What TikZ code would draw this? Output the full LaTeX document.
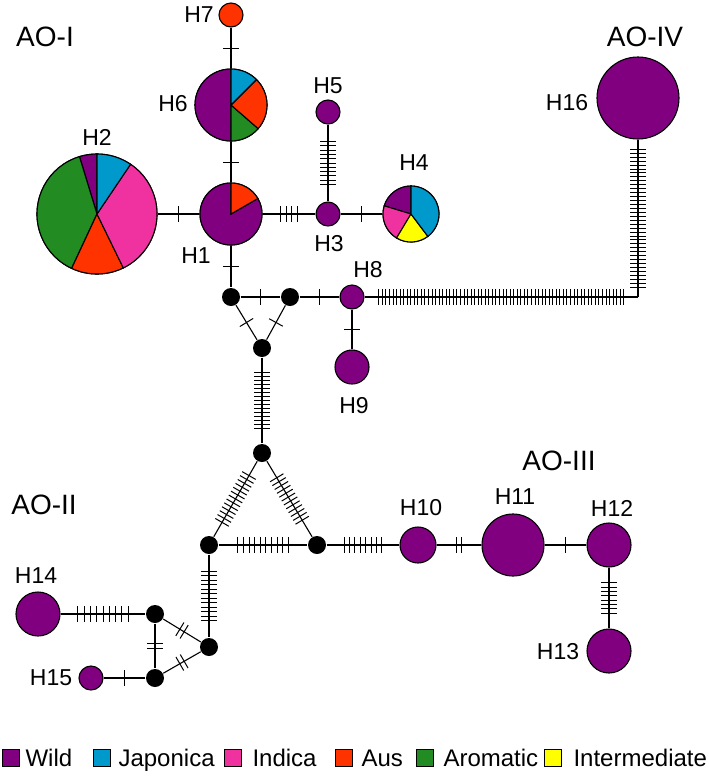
\documentclass[tikz,border=0pt]{standalone}
\usepackage{fontspec}
\setmainfont{Liberation Sans}
\usetikzlibrary{positioning,decorations.markings}

\definecolor{wild}{RGB}{128,0,128}
\definecolor{japonica}{RGB}{0,153,204}
\definecolor{indica}{RGB}{240,50,160}
\definecolor{aus}{RGB}{255,51,0}
\definecolor{aromatic}{RGB}{34,139,34}
\definecolor{intermed}{RGB}{255,255,0}

% one slice of a pie: centre, start, end, radius, colour
\newcommand{\slice}[5]{\filldraw[fill=#5] (#1) -- ++(#2:#4) arc[start angle=#2, end angle=#3, radius=#4] -- cycle;}

\tikzset{
  hap/.style={circle,draw,fill=wild,inner sep=0pt},
  jn/.style={circle,fill=black,inner sep=0pt,minimum size=18pt},
  lab/.style={inner sep=0pt,font=\fontsize{23}{27}\selectfont},
  grp/.style={inner sep=0pt,font=\fontsize{28}{32}\selectfont},
  key/.style={draw,inner sep=0pt,minimum size=17pt},
  keytext/.style={anchor=base west,inner sep=0pt,font=\fontsize{24}{28}\selectfont},
  mut/.style 2 args={postaction={decorate,decoration={markings,
    mark=at position 0.5 with {\foreach \k in {1,...,#1}
      \draw[line width=1pt] ({(\k-(#1+1)/2)*#2},-7.8) -- ++(0,15.6);}}}}
}

\begin{document}
\begin{tikzpicture}[x=1pt,y=1pt,line width=1.1pt]
\useasboundingbox (0,0) rectangle (709,-777);
% haplotypes
\node[hap,fill=aus,minimum size=24] (H7) at (231,-15) {};
\node[hap,minimum size=72] (H6) at (231,-105) {};
\node[hap,minimum size=62] (H1) at (231,-214) {};
\node[hap,minimum size=120] (H2) at (97,-214) {};
\node[hap,minimum size=24] (H5) at (328,-112) {};
\node[hap,minimum size=24] (H3) at (328,-214) {};
\node[hap,minimum size=56] (H4) at (411,-214) {};
\node[hap,minimum size=24] (H8) at (352,-297) {};
\node[hap,minimum size=34] (H9) at (352,-367) {};
\node[hap,minimum size=82] (H16) at (638,-98) {};
\node[hap,minimum size=36] (H10) at (418,-545) {};
\node[hap,minimum size=62] (H11) at (513,-545) {};
\node[hap,minimum size=44] (H12) at (609,-545) {};
\node[hap,minimum size=44] (H13) at (609,-651) {};
\node[hap,minimum size=44] (H14) at (38,-614) {};
\node[hap,minimum size=24] (H15) at (91,-678) {};
% median vectors
\node[jn] (m1) at (231,-297) {};
\node[jn] (m2) at (290,-297) {};
\node[jn] (m3) at (262,-348) {};
\node[jn] (m4) at (262,-453) {};
\node[jn] (m5) at (209,-545) {};
\node[jn] (m6) at (317,-545) {};
\node[jn] (m7) at (209,-647) {};
\node[jn] (m8) at (155,-614) {};
\node[jn] (m9) at (155,-678) {};
\coordinate (c1) at (638,-297);

% links
\draw[mut={1}{4.5}] (H7) -- (H6);
\draw[mut={1}{4.5}] (H6) -- (H1);
\draw[mut={1}{4.5}] (H2) -- (H1);
\draw[mut={4}{5.7}] (H1) -- (H3);
\draw[mut={11}{4.3}] (H5) -- (H3);
\draw[mut={1}{4.5}] (H3) -- (H4);
\draw[mut={1}{4.5}] (H1) -- (m1);
\draw[mut={1}{4.5}] (m1) -- (m2);
\draw[mut={1}{4.5}] (m2) -- (H8);
\draw[mut={1}{4.5}] (m1) -- (m3);
\draw[mut={1}{4.5}] (m2) -- (m3);
\draw[mut={1}{4.5}] (H8) -- (H9);
\draw[mut={70}{3.55}] (H8) -- (c1);
\draw[mut={36}{3.94}] (c1) -- (H16);
\draw[mut={15}{4}] (m3) -- (m4);
\draw[mut={13}{4.5}] (m4) -- (m5);
\draw[mut={12}{4.5}] (m4) -- (m6);
\draw[mut={10}{5.6}] (m5) -- (m6);
\draw[mut={8}{5.4}] (m6) -- (H10);
\draw[mut={2}{5}] (H10) -- (H11);
\draw[mut={1}{4.5}] (H11) -- (H12);
\draw[mut={8}{4.3}] (H12) -- (H13);
\draw[mut={12}{4.5}] (m5) -- (m7);
\draw[mut={2}{5}] (m8) -- (m7);
\draw[mut={2}{5}] (m9) -- (m7);
\draw[mut={2}{5}] (m8) -- (m9);
\draw[mut={9}{6.3}] (H14) -- (m8);
\draw[mut={1}{4.5}] (H15) -- (m9);

% pies
\slice{H6.center}{90}{270}{36}{wild}
\slice{H6.center}{270}{319}{36}{aromatic}
\slice{H6.center}{319}{405}{36}{aus}
\slice{H6.center}{45}{90}{36}{japonica}
\slice{H1.center}{90}{390}{31}{wild}
\slice{H1.center}{30}{90}{31}{aus}
\slice{H2.center}{90}{107}{60}{wild}
\slice{H2.center}{107}{245}{60}{aromatic}
\slice{H2.center}{245}{296}{60}{aus}
\slice{H2.center}{296}{416}{60}{indica}
\slice{H2.center}{56}{90}{60}{japonica}
\slice{H4.center}{90}{163}{28}{wild}
\slice{H4.center}{163}{239}{28}{indica}
\slice{H4.center}{239}{307}{28}{intermed}
\slice{H4.center}{307}{450}{28}{japonica}

% labels
\node[lab] (l1) at (196,-256) {H1};
\node[lab] (l2) at (97,-137) {H2};
\node[lab] (l3) at (329,-244) {H3};
\node[lab] (l4) at (414,-163) {H4};
\node[lab] (l5) at (328,-86) {H5};
\node[lab] (l6) at (173,-104) {H6};
\node[lab] (l7) at (199,-15) {H7};
\node[lab] (l8) at (368,-270) {H8};
\node[lab] (l9) at (354,-406) {H9};
\node[lab] (l10) at (421,-508) {H10};
\node[lab] (l11) at (515,-497) {H11};
\node[lab] (l12) at (612,-508) {H12};
\node[lab] (l13) at (558,-652) {H13};
\node[lab] (l14) at (36,-576) {H14};
\node[lab] (l15) at (51,-678) {H15};
\node[lab] (l16) at (567,-103) {H16};
\node[grp] (g1) at (45,-37) {AO-I};
\node[grp] (g2) at (44,-505) {AO-II};
\node[grp] (g3) at (559,-461) {AO-III};
\node[grp] (g4) at (645,-37) {AO-IV};

% legend
\node[key,fill=wild] (k1) at (11,-758) {};
\node[keytext] (t1) at (25,-766) {Wild};
\node[key,fill=japonica] (k2) at (102,-758) {};
\node[keytext] (t2) at (118,-766) {Japonica};
\node[key,fill=indica] (k3) at (233,-758) {};
\node[keytext] (t3) at (252,-766) {Indica};
\node[key,fill=aus] (k4) at (344,-758) {};
\node[keytext] (t4) at (361,-766) {Aus};
\node[key,fill=aromatic] (k5) at (425,-758) {};
\node[keytext] (t5) at (443,-766) {Aromatic};
\node[key,fill=intermed] (k6) at (553,-758) {};
\node[keytext] (t6) at (573,-766) {Intermediate};
\end{tikzpicture}
\end{document}
